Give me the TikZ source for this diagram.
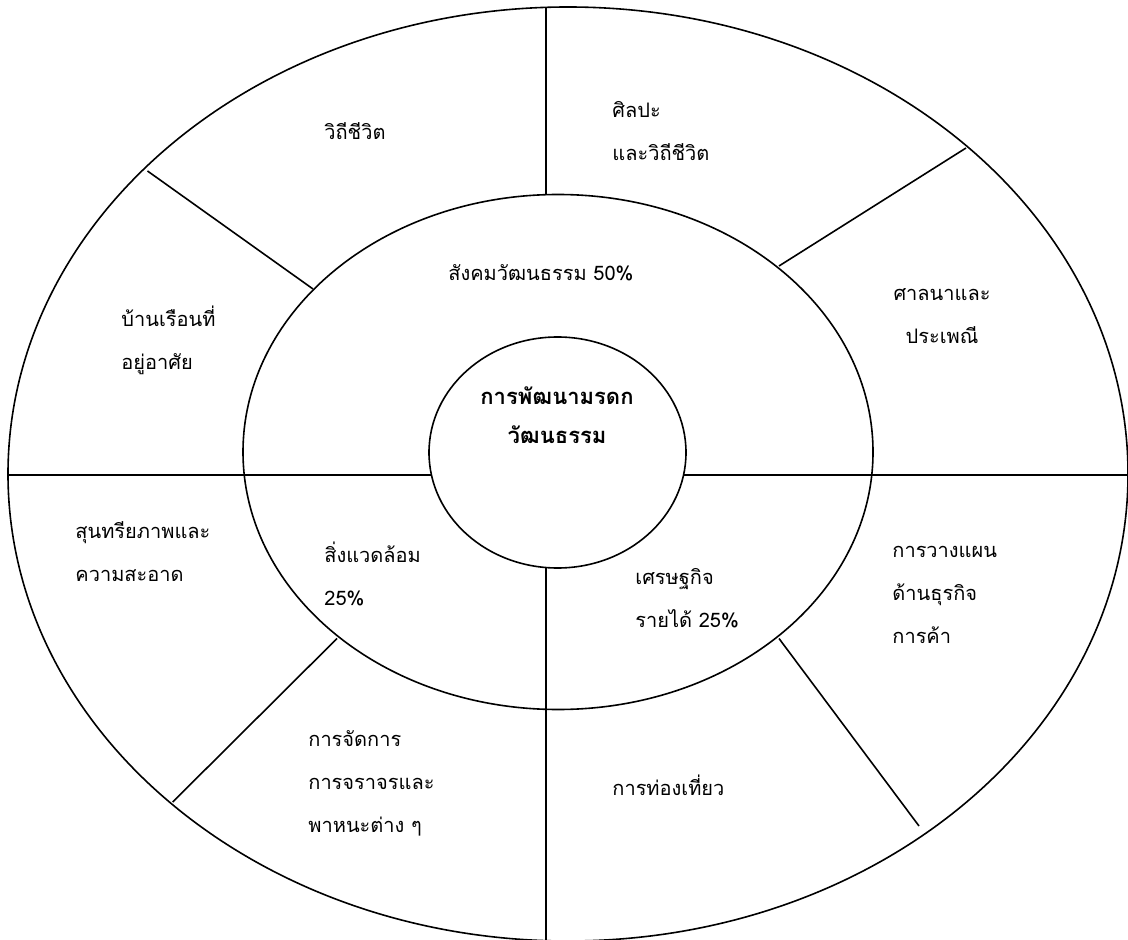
\documentclass[tikz,border=0pt]{standalone}
\usepackage{fontspec}
\newfontfamily\thaifont[Script=Thai]{Loma}
\usetikzlibrary{calc}
\newcommand{\ring}[4]{\draw[thick] ( #1 , #2 ) ellipse [x radius=#3, y radius=#4];}
\newcommand{\spoke}[2]{\draw[thick] (#1) -- (#2);}
\newcommand{\blurb}[5]{\node[anchor=#4, align=left, inner sep=0pt, font=\thaifont\fontsize{10}{21.5}\selectfont] (#1) at ( #2 , #3 ) {#5};}

\begin{document}
\begin{tikzpicture}[x=0.5pt, y=-0.5pt]
\useasboundingbox (0,0) rectangle (1128,940);
% the three rings
\ring{568}{474}{560}{467}
\ring{558}{452}{315}{257.5}
\ring{557.5}{452.5}{128.5}{115.5}
% ends of the dividing lines
\coordinate (ntop) at (546,7.4);
\coordinate (nmid) at (546,194.7);
\coordinate (score) at (546,566.8);
\coordinate (sout) at (546,941);
\coordinate (wout) at (8,475);
\coordinate (wcore) at (431.5,475);
\coordinate (ecore) at (683.5,475);
\coordinate (eout) at (1128,475);
\coordinate (nwout) at (147.5,171);
\coordinate (nwmid) at (313,289);
\coordinate (neout) at (966,148);
\coordinate (nemid) at (779,266);
\coordinate (swmid) at (337,638.5);
\coordinate (swout) at (172.7,802);
\coordinate (semid) at (779,638.5);
\coordinate (seout) at (919,826);
% dividing lines
\spoke{ntop}{nmid}
\spoke{score}{sout}
\spoke{wout}{wcore}
\spoke{ecore}{eout}
\spoke{nwout}{nwmid}
\spoke{neout}{nemid}
\spoke{swmid}{swout}
\spoke{semid}{seout}
% centre
\node[align=center, inner sep=0pt, font=\thaifont\bfseries\fontsize{11}{19.5}\selectfont] (heritage) at (557,415.5) {การพัฒนามรดก\\วัฒนธรรม};
% middle ring labels
\blurb{society}{448}{273}{west}{สังคมวัฒนธรรม 50\%}
\blurb{environ}{324}{573.5}{west}{สิ่งแวดล้อม\\25\%}
\blurb{economy}{635}{598}{west}{เศรษฐกิจ\\รายได้ 25\%}
% outer ring labels
\blurb{lifeway}{324}{131}{west}{วิถีชีวิต}
\blurb{arts}{612}{131}{west}{ศิลปะ\\และวิถีชีวิต}
\node[anchor=center, align=center, inner sep=0pt, font=\thaifont\fontsize{10}{21.5}\selectfont] (religion) at (942,316.5) {ศาลนาและ\\ประเพณี};
\blurb{housing}{121}{340.5}{west}{บ้านเรือนที่\\อยู่อาศัย}
\blurb{aesthetic}{75}{552}{west}{สุนทรียภาพและ\\ความสะอาด}
\blurb{business}{892}{595}{west}{การวางแผน\\ด้านธุรกิจ\\การค้า}
\blurb{traffic}{308}{783}{west}{การจัดการ\\การจราจรและ\\พาหนะต่าง ๆ}
\blurb{tourism}{612}{785}{west}{การท่องเที่ยว}
\end{tikzpicture}
\end{document}
